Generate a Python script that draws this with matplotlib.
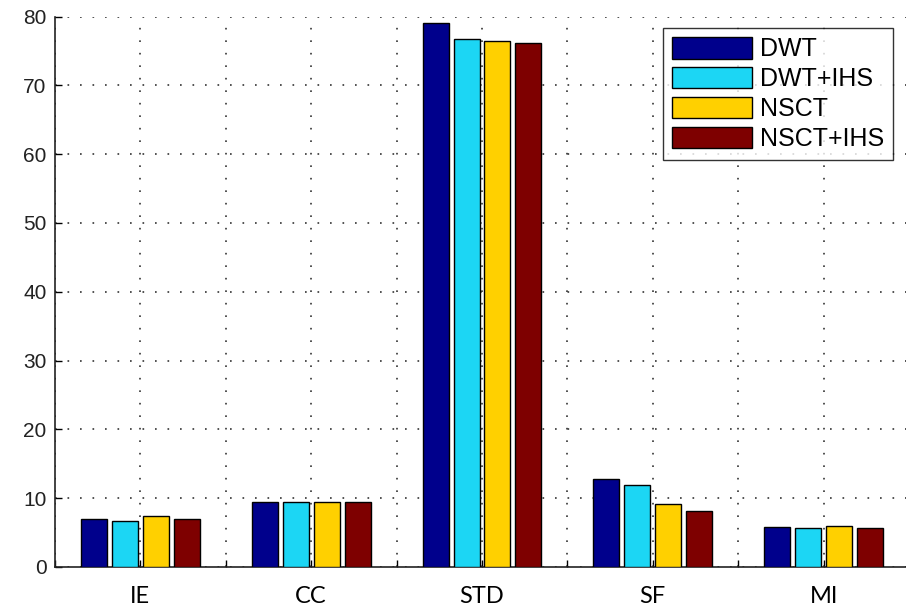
import matplotlib
matplotlib.use("Agg")
import matplotlib.pyplot as plt
import numpy as np

# Fusion quality metrics per method
metrics = ["IE", "CC", "STD", "SF", "MI"]
methods = ["DWT", "DWT+IHS", "NSCT", "NSCT+IHS"]
dwt = [7.0, 9.4, 79.0, 12.8, 5.8]
dwt_ihs = [6.7, 9.4, 76.8, 11.9, 5.6]
nsct = [7.4, 9.5, 76.4, 9.1, 6.0]
nsct_ihs = [7.0, 9.4, 76.2, 8.2, 5.6]
yticks = [0, 10, 20, 30, 40, 50, 60, 70, 80]

series = [dwt, dwt_ihs, nsct, nsct_ihs]
colors = ["#00008C", "#1CD6F4", "#FFD000", "#7E0000"]

W, H = 906, 612
fig = plt.figure(figsize=(W / 100, H / 100), dpi=100)
ax = fig.add_axes([55 / W, 45 / H, (909 - 55) / W, (567 - 16.5) / H])

x = np.arange(1, len(metrics) + 1)
step = 0.181
width = 0.152
for i, (vals, c, name) in enumerate(zip(series, colors, methods)):
    ax.bar(x + (i - 1.5) * step, vals, width, color=c, edgecolor="black",
           linewidth=1.0, label=name, zorder=3)

ax.set_xlim(0.5, 5.5)
ax.set_ylim(0, 80)

xt = np.arange(0.5, 5.51, 0.5)
ax.set_xticks(xt)
ax.set_xticklabels([metrics[int(v) - 1] if float(v).is_integer() else "" for v in xt],
                   fontfamily="Lato", fontsize=17)
ax.set_yticks(yticks)
ax.set_yticklabels([str(v) for v in yticks], fontfamily="Liberation Sans",
                   fontsize=15, color="#222222")

ax.tick_params(axis="both", direction="in", length=5, width=1, color="black")
ax.tick_params(axis="x", pad=14)
ax.tick_params(axis="y", pad=6)

ax.grid(True, linestyle=(0, (1, 6.5)), color="#333333", linewidth=1.2, zorder=0)
ax.set_axisbelow(True)

for s in ["top", "right"]:
    ax.spines[s].set_visible(False)
for s in ["left", "bottom"]:
    ax.spines[s].set_linewidth(1.2)
    ax.spines[s].set_color("#222222")

leg = ax.legend(loc="upper left", bbox_to_anchor=(663 / W, 1 - 28 / H),
                bbox_transform=fig.transFigure, borderaxespad=0,
                prop={"family": "Liberation Sans", "size": 18},
                frameon=True, fancybox=False, edgecolor="black",
                handlelength=3.2, handleheight=0.95, handletextpad=0.3,
                labelspacing=0.22, borderpad=0.36)
leg.get_frame().set_linewidth(1.0)

fig.savefig("out.png", dpi=100, facecolor="white")
